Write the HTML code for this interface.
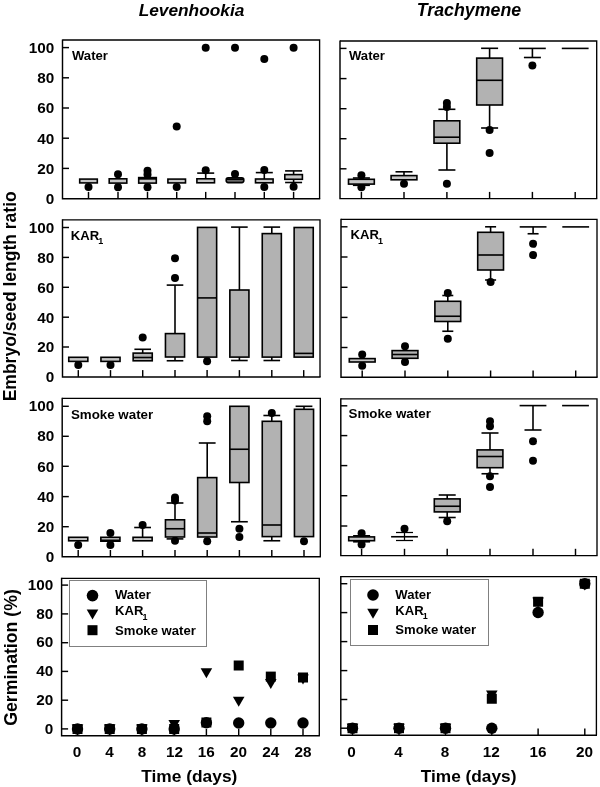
<!DOCTYPE html>
<html><head><meta charset="utf-8"><title>Embryo growth and germination</title>
<style>
html,body{margin:0;padding:0;background:#fff;}
body{width:600px;height:787px;overflow:hidden;}
svg{display:block;}
svg text{font-family:"Liberation Sans",sans-serif;font-weight:bold;fill:#000;}
</style></head><body>
<svg width="600" height="787" viewBox="0 0 600 787">
<defs><filter id="soft" x="0" y="0" width="600" height="787" filterUnits="userSpaceOnUse"><feGaussianBlur stdDeviation="0.3"/></filter></defs>
<rect x="0" y="0" width="600" height="787" fill="#fff"/>
<g filter="url(#soft)">
<path d="M62.50 40.00H319.60V198.70" fill="none" stroke="#000" stroke-width="1.35"/>
<path d="M62.50 39.40V198.70H320.20" fill="none" stroke="#000" stroke-width="1.45"/>
<line x1="62.50" y1="47.60" x2="69.00" y2="47.60" stroke="#000" stroke-width="1.45"/>
<line x1="62.50" y1="77.80" x2="69.00" y2="77.80" stroke="#000" stroke-width="1.45"/>
<line x1="62.50" y1="108.00" x2="69.00" y2="108.00" stroke="#000" stroke-width="1.45"/>
<line x1="62.50" y1="138.20" x2="69.00" y2="138.20" stroke="#000" stroke-width="1.45"/>
<line x1="62.50" y1="168.40" x2="69.00" y2="168.40" stroke="#000" stroke-width="1.45"/>
<text x="54.30" y="52.95" font-size="15.3" text-anchor="end"  style="">100</text>
<text x="54.30" y="83.15" font-size="15.3" text-anchor="end"  style="">80</text>
<text x="54.30" y="113.35" font-size="15.3" text-anchor="end"  style="">60</text>
<text x="54.30" y="143.55" font-size="15.3" text-anchor="end"  style="">40</text>
<text x="54.30" y="173.75" font-size="15.3" text-anchor="end"  style="">20</text>
<text x="54.30" y="204.05" font-size="15.3" text-anchor="end"  style="">0</text>
<line x1="88.50" y1="198.70" x2="88.50" y2="191.90" stroke="#000" stroke-width="1.45"/>
<line x1="118.00" y1="198.70" x2="118.00" y2="191.90" stroke="#000" stroke-width="1.45"/>
<line x1="147.50" y1="198.70" x2="147.50" y2="191.90" stroke="#000" stroke-width="1.45"/>
<line x1="176.70" y1="198.70" x2="176.70" y2="191.90" stroke="#000" stroke-width="1.45"/>
<line x1="205.70" y1="198.70" x2="205.70" y2="191.90" stroke="#000" stroke-width="1.45"/>
<line x1="235.00" y1="198.70" x2="235.00" y2="191.90" stroke="#000" stroke-width="1.45"/>
<line x1="264.30" y1="198.70" x2="264.30" y2="191.90" stroke="#000" stroke-width="1.45"/>
<line x1="293.60" y1="198.70" x2="293.60" y2="191.90" stroke="#000" stroke-width="1.45"/>
<text x="72.00" y="59.90" font-size="13.1" text-anchor="start"  style="">Water</text>
<circle cx="88.50" cy="186.90" r="4.0" fill="#000"/>
<rect x="79.70" y="179.10" width="17.60" height="3.80" fill="#c6c6c6" stroke="#000" stroke-width="1.6"/>
<circle cx="118.00" cy="174.20" r="4.0" fill="#000"/>
<circle cx="118.00" cy="187.20" r="4.0" fill="#000"/>
<rect x="109.20" y="178.80" width="17.60" height="4.30" fill="#c6c6c6" stroke="#000" stroke-width="1.6"/>
<circle cx="147.50" cy="170.70" r="4.0" fill="#000"/>
<circle cx="147.50" cy="174.60" r="4.0" fill="#000"/>
<circle cx="147.50" cy="187.20" r="4.0" fill="#000"/>
<rect x="138.70" y="177.60" width="17.60" height="5.50" fill="#c6c6c6" stroke="#000" stroke-width="1.6"/>
<line x1="138.70" y1="178.60" x2="156.30" y2="178.60" stroke="#000" stroke-width="2.2"/>
<circle cx="176.70" cy="186.90" r="4.0" fill="#000"/>
<circle cx="176.70" cy="126.60" r="4.0" fill="#000"/>
<rect x="167.90" y="179.10" width="17.60" height="3.80" fill="#c6c6c6" stroke="#000" stroke-width="1.6"/>
<line x1="205.70" y1="178.80" x2="205.70" y2="173.10" stroke="#000" stroke-width="1.6"/>
<line x1="197.20" y1="173.10" x2="214.20" y2="173.10" stroke="#000" stroke-width="1.6"/>
<circle cx="205.70" cy="170.30" r="4.0" fill="#000"/>
<circle cx="205.70" cy="47.65" r="4.0" fill="#000"/>
<rect x="196.90" y="178.80" width="17.60" height="4.00" fill="#c6c6c6" stroke="#000" stroke-width="1.6"/>
<circle cx="235.00" cy="174.00" r="4.0" fill="#000"/>
<circle cx="235.00" cy="47.65" r="4.0" fill="#000"/>
<rect x="226.20" y="177.90" width="17.60" height="4.70" fill="#666" stroke="#000" stroke-width="1.6" rx="2"/>
<line x1="226.20" y1="179.20" x2="243.80" y2="179.20" stroke="#000" stroke-width="1.6"/>
<line x1="264.30" y1="179.00" x2="264.30" y2="172.60" stroke="#000" stroke-width="1.6"/>
<line x1="255.80" y1="172.60" x2="272.80" y2="172.60" stroke="#000" stroke-width="1.6"/>
<circle cx="264.30" cy="169.90" r="4.0" fill="#000"/>
<circle cx="264.30" cy="187.10" r="4.0" fill="#000"/>
<circle cx="264.30" cy="58.90" r="4.0" fill="#000"/>
<rect x="255.50" y="179.00" width="17.60" height="3.80" fill="#c6c6c6" stroke="#000" stroke-width="1.6"/>
<line x1="293.60" y1="174.60" x2="293.60" y2="170.90" stroke="#000" stroke-width="1.6"/>
<line x1="285.10" y1="170.90" x2="302.10" y2="170.90" stroke="#000" stroke-width="1.6"/>
<line x1="293.60" y1="179.30" x2="293.60" y2="182.50" stroke="#000" stroke-width="1.6"/>
<line x1="285.10" y1="182.50" x2="302.10" y2="182.50" stroke="#000" stroke-width="1.6"/>
<circle cx="293.60" cy="186.80" r="4.0" fill="#000"/>
<circle cx="293.60" cy="47.65" r="4.0" fill="#000"/>
<rect x="284.80" y="174.60" width="17.60" height="4.70" fill="#c6c6c6" stroke="#000" stroke-width="1.6"/>
<path d="M340.00 41.00H596.70V198.60" fill="none" stroke="#000" stroke-width="1.35"/>
<path d="M340.00 40.40V198.60H597.30" fill="none" stroke="#000" stroke-width="1.45"/>
<line x1="340.00" y1="48.40" x2="346.50" y2="48.40" stroke="#000" stroke-width="1.45"/>
<line x1="340.00" y1="78.60" x2="346.50" y2="78.60" stroke="#000" stroke-width="1.45"/>
<line x1="340.00" y1="108.70" x2="346.50" y2="108.70" stroke="#000" stroke-width="1.45"/>
<line x1="340.00" y1="138.70" x2="346.50" y2="138.70" stroke="#000" stroke-width="1.45"/>
<line x1="340.00" y1="168.80" x2="346.50" y2="168.80" stroke="#000" stroke-width="1.45"/>
<line x1="361.40" y1="198.70" x2="361.40" y2="191.90" stroke="#000" stroke-width="1.45"/>
<line x1="404.00" y1="198.70" x2="404.00" y2="191.90" stroke="#000" stroke-width="1.45"/>
<line x1="446.90" y1="198.70" x2="446.90" y2="191.90" stroke="#000" stroke-width="1.45"/>
<line x1="489.60" y1="198.70" x2="489.60" y2="191.90" stroke="#000" stroke-width="1.45"/>
<line x1="532.40" y1="198.70" x2="532.40" y2="191.90" stroke="#000" stroke-width="1.45"/>
<line x1="575.20" y1="198.70" x2="575.20" y2="191.90" stroke="#000" stroke-width="1.45"/>
<text x="349.00" y="60.20" font-size="13.1" text-anchor="start"  style="">Water</text>
<line x1="361.40" y1="179.30" x2="361.40" y2="178.00" stroke="#000" stroke-width="1.6"/>
<line x1="352.90" y1="178.00" x2="369.90" y2="178.00" stroke="#000" stroke-width="1.6"/>
<line x1="361.40" y1="184.10" x2="361.40" y2="185.30" stroke="#000" stroke-width="1.6"/>
<line x1="352.90" y1="185.30" x2="369.90" y2="185.30" stroke="#000" stroke-width="1.6"/>
<circle cx="361.40" cy="175.20" r="4.0" fill="#000"/>
<circle cx="361.40" cy="187.30" r="4.0" fill="#000"/>
<rect x="348.50" y="179.30" width="25.80" height="4.80" fill="#c6c6c6" stroke="#000" stroke-width="1.6"/>
<line x1="404.00" y1="175.60" x2="404.00" y2="171.80" stroke="#000" stroke-width="1.6"/>
<line x1="395.50" y1="171.80" x2="412.50" y2="171.80" stroke="#000" stroke-width="1.6"/>
<circle cx="404.00" cy="183.75" r="4.0" fill="#000"/>
<rect x="391.10" y="175.60" width="25.80" height="4.20" fill="#c6c6c6" stroke="#000" stroke-width="1.6"/>
<line x1="446.90" y1="120.80" x2="446.90" y2="109.30" stroke="#000" stroke-width="1.6"/>
<line x1="438.40" y1="109.30" x2="455.40" y2="109.30" stroke="#000" stroke-width="1.6"/>
<line x1="446.90" y1="143.20" x2="446.90" y2="170.00" stroke="#000" stroke-width="1.6"/>
<line x1="438.40" y1="170.00" x2="455.40" y2="170.00" stroke="#000" stroke-width="1.6"/>
<circle cx="446.90" cy="103.00" r="4.0" fill="#000"/>
<circle cx="446.90" cy="107.00" r="4.0" fill="#000"/>
<circle cx="446.90" cy="183.75" r="4.0" fill="#000"/>
<rect x="434.00" y="120.80" width="25.80" height="22.40" fill="#b2b2b2" stroke="#000" stroke-width="1.6"/>
<line x1="434.00" y1="137.20" x2="459.80" y2="137.20" stroke="#000" stroke-width="1.6"/>
<line x1="489.60" y1="58.10" x2="489.60" y2="48.30" stroke="#000" stroke-width="1.6"/>
<line x1="481.10" y1="48.30" x2="498.10" y2="48.30" stroke="#000" stroke-width="1.6"/>
<line x1="489.60" y1="105.00" x2="489.60" y2="128.00" stroke="#000" stroke-width="1.6"/>
<line x1="481.10" y1="128.00" x2="498.10" y2="128.00" stroke="#000" stroke-width="1.6"/>
<circle cx="489.60" cy="130.00" r="4.0" fill="#000"/>
<circle cx="489.60" cy="153.00" r="4.0" fill="#000"/>
<rect x="476.70" y="58.10" width="25.80" height="46.90" fill="#b2b2b2" stroke="#000" stroke-width="1.6"/>
<line x1="476.70" y1="80.30" x2="502.50" y2="80.30" stroke="#000" stroke-width="1.6"/>
<line x1="532.40" y1="48.40" x2="532.40" y2="57.50" stroke="#000" stroke-width="1.6"/>
<line x1="523.90" y1="57.50" x2="540.90" y2="57.50" stroke="#000" stroke-width="1.6"/>
<circle cx="532.40" cy="65.50" r="4.0" fill="#000"/>
<line x1="519.00" y1="48.40" x2="545.80" y2="48.40" stroke="#000" stroke-width="1.6"/>
<line x1="561.80" y1="48.40" x2="588.60" y2="48.40" stroke="#000" stroke-width="1.6"/>
<path d="M62.50 219.80H320.00V376.90" fill="none" stroke="#000" stroke-width="1.35"/>
<path d="M62.50 219.20V376.90H320.60" fill="none" stroke="#000" stroke-width="1.45"/>
<line x1="62.50" y1="227.50" x2="69.00" y2="227.50" stroke="#000" stroke-width="1.45"/>
<line x1="62.50" y1="257.40" x2="69.00" y2="257.40" stroke="#000" stroke-width="1.45"/>
<line x1="62.50" y1="287.30" x2="69.00" y2="287.30" stroke="#000" stroke-width="1.45"/>
<line x1="62.50" y1="317.20" x2="69.00" y2="317.20" stroke="#000" stroke-width="1.45"/>
<line x1="62.50" y1="347.00" x2="69.00" y2="347.00" stroke="#000" stroke-width="1.45"/>
<text x="54.30" y="232.85" font-size="15.3" text-anchor="end"  style="">100</text>
<text x="54.30" y="262.75" font-size="15.3" text-anchor="end"  style="">80</text>
<text x="54.30" y="292.65" font-size="15.3" text-anchor="end"  style="">60</text>
<text x="54.30" y="322.55" font-size="15.3" text-anchor="end"  style="">40</text>
<text x="54.30" y="352.35" font-size="15.3" text-anchor="end"  style="">20</text>
<text x="54.30" y="382.25" font-size="15.3" text-anchor="end"  style="">0</text>
<line x1="78.30" y1="376.90" x2="78.30" y2="370.10" stroke="#000" stroke-width="1.45"/>
<line x1="110.50" y1="376.90" x2="110.50" y2="370.10" stroke="#000" stroke-width="1.45"/>
<line x1="142.70" y1="376.90" x2="142.70" y2="370.10" stroke="#000" stroke-width="1.45"/>
<line x1="175.00" y1="376.90" x2="175.00" y2="370.10" stroke="#000" stroke-width="1.45"/>
<line x1="207.10" y1="376.90" x2="207.10" y2="370.10" stroke="#000" stroke-width="1.45"/>
<line x1="239.40" y1="376.90" x2="239.40" y2="370.10" stroke="#000" stroke-width="1.45"/>
<line x1="271.80" y1="376.90" x2="271.80" y2="370.10" stroke="#000" stroke-width="1.45"/>
<line x1="303.70" y1="376.90" x2="303.70" y2="370.10" stroke="#000" stroke-width="1.45"/>
<text x="70.8" y="240.0" font-size="13.1">KAR<tspan font-size="9" dy="4.3" dx="-0.9">1</tspan></text>
<circle cx="78.30" cy="365.00" r="4.0" fill="#000"/>
<rect x="68.75" y="357.30" width="19.10" height="4.10" fill="#c6c6c6" stroke="#000" stroke-width="1.6"/>
<circle cx="110.50" cy="365.00" r="4.0" fill="#000"/>
<rect x="100.95" y="357.30" width="19.10" height="4.10" fill="#c6c6c6" stroke="#000" stroke-width="1.6"/>
<line x1="142.70" y1="353.10" x2="142.70" y2="349.30" stroke="#000" stroke-width="1.6"/>
<line x1="134.40" y1="349.30" x2="151.00" y2="349.30" stroke="#000" stroke-width="1.6"/>
<circle cx="142.70" cy="337.50" r="4.0" fill="#000"/>
<rect x="133.15" y="353.10" width="19.10" height="7.70" fill="#b2b2b2" stroke="#000" stroke-width="1.6"/>
<line x1="133.15" y1="357.50" x2="152.25" y2="357.50" stroke="#000" stroke-width="1.6"/>
<line x1="175.00" y1="333.60" x2="175.00" y2="285.10" stroke="#000" stroke-width="1.6"/>
<line x1="166.70" y1="285.10" x2="183.30" y2="285.10" stroke="#000" stroke-width="1.6"/>
<line x1="175.00" y1="357.00" x2="175.00" y2="360.75" stroke="#000" stroke-width="1.6"/>
<line x1="166.70" y1="360.75" x2="183.30" y2="360.75" stroke="#000" stroke-width="1.6"/>
<circle cx="175.00" cy="258.25" r="4.0" fill="#000"/>
<circle cx="175.00" cy="278.00" r="4.0" fill="#000"/>
<rect x="165.45" y="333.60" width="19.10" height="23.40" fill="#b2b2b2" stroke="#000" stroke-width="1.6"/>
<circle cx="207.10" cy="361.25" r="4.0" fill="#000"/>
<rect x="197.55" y="227.40" width="19.10" height="129.70" fill="#b2b2b2" stroke="#000" stroke-width="1.6"/>
<line x1="197.55" y1="297.90" x2="216.65" y2="297.90" stroke="#000" stroke-width="1.6"/>
<line x1="239.40" y1="290.00" x2="239.40" y2="227.10" stroke="#000" stroke-width="1.6"/>
<line x1="231.10" y1="227.10" x2="247.70" y2="227.10" stroke="#000" stroke-width="1.6"/>
<line x1="239.40" y1="357.10" x2="239.40" y2="360.50" stroke="#000" stroke-width="1.6"/>
<line x1="231.10" y1="360.50" x2="247.70" y2="360.50" stroke="#000" stroke-width="1.6"/>
<rect x="229.85" y="290.00" width="19.10" height="67.10" fill="#b2b2b2" stroke="#000" stroke-width="1.6"/>
<line x1="271.80" y1="233.60" x2="271.80" y2="227.10" stroke="#000" stroke-width="1.6"/>
<line x1="263.50" y1="227.10" x2="280.10" y2="227.10" stroke="#000" stroke-width="1.6"/>
<line x1="271.80" y1="357.10" x2="271.80" y2="360.50" stroke="#000" stroke-width="1.6"/>
<line x1="263.50" y1="360.50" x2="280.10" y2="360.50" stroke="#000" stroke-width="1.6"/>
<rect x="262.25" y="233.60" width="19.10" height="123.50" fill="#b2b2b2" stroke="#000" stroke-width="1.6"/>
<rect x="294.15" y="227.50" width="19.10" height="129.60" fill="#b2b2b2" stroke="#000" stroke-width="1.6"/>
<line x1="294.15" y1="353.40" x2="313.25" y2="353.40" stroke="#000" stroke-width="1.6"/>
<path d="M341.00 219.30H597.00V377.20" fill="none" stroke="#000" stroke-width="1.35"/>
<path d="M341.00 218.70V377.20H597.60" fill="none" stroke="#000" stroke-width="1.45"/>
<line x1="341.00" y1="226.80" x2="347.50" y2="226.80" stroke="#000" stroke-width="1.45"/>
<line x1="341.00" y1="257.00" x2="347.50" y2="257.00" stroke="#000" stroke-width="1.45"/>
<line x1="341.00" y1="287.30" x2="347.50" y2="287.30" stroke="#000" stroke-width="1.45"/>
<line x1="341.00" y1="317.40" x2="347.50" y2="317.40" stroke="#000" stroke-width="1.45"/>
<line x1="341.00" y1="347.50" x2="347.50" y2="347.50" stroke="#000" stroke-width="1.45"/>
<line x1="362.20" y1="377.30" x2="362.20" y2="370.50" stroke="#000" stroke-width="1.45"/>
<line x1="405.00" y1="377.30" x2="405.00" y2="370.50" stroke="#000" stroke-width="1.45"/>
<line x1="447.80" y1="377.30" x2="447.80" y2="370.50" stroke="#000" stroke-width="1.45"/>
<line x1="490.60" y1="377.30" x2="490.60" y2="370.50" stroke="#000" stroke-width="1.45"/>
<line x1="533.10" y1="377.30" x2="533.10" y2="370.50" stroke="#000" stroke-width="1.45"/>
<line x1="575.70" y1="377.30" x2="575.70" y2="370.50" stroke="#000" stroke-width="1.45"/>
<text x="350.5" y="239.4" font-size="13.1">KAR<tspan font-size="9" dy="4.3" dx="-0.9">1</tspan></text>
<circle cx="362.20" cy="354.50" r="4.0" fill="#000"/>
<circle cx="362.20" cy="365.75" r="4.0" fill="#000"/>
<rect x="349.30" y="358.60" width="25.80" height="3.40" fill="#c6c6c6" stroke="#000" stroke-width="1.6"/>
<circle cx="405.00" cy="346.25" r="4.0" fill="#000"/>
<circle cx="405.00" cy="362.00" r="4.0" fill="#000"/>
<rect x="392.10" y="350.60" width="25.80" height="7.70" fill="#b2b2b2" stroke="#000" stroke-width="1.6"/>
<line x1="392.10" y1="354.50" x2="417.90" y2="354.50" stroke="#000" stroke-width="1.6"/>
<line x1="447.80" y1="301.30" x2="447.80" y2="295.50" stroke="#000" stroke-width="1.6"/>
<line x1="442.30" y1="295.50" x2="453.30" y2="295.50" stroke="#000" stroke-width="1.6"/>
<line x1="447.80" y1="321.50" x2="447.80" y2="331.25" stroke="#000" stroke-width="1.6"/>
<line x1="442.30" y1="331.25" x2="453.30" y2="331.25" stroke="#000" stroke-width="1.6"/>
<circle cx="447.80" cy="293.00" r="4.0" fill="#000"/>
<circle cx="447.80" cy="338.75" r="4.0" fill="#000"/>
<rect x="434.90" y="301.30" width="25.80" height="20.20" fill="#b2b2b2" stroke="#000" stroke-width="1.6"/>
<line x1="434.90" y1="316.25" x2="460.70" y2="316.25" stroke="#000" stroke-width="1.6"/>
<line x1="490.60" y1="232.30" x2="490.60" y2="226.80" stroke="#000" stroke-width="1.6"/>
<line x1="485.10" y1="226.80" x2="496.10" y2="226.80" stroke="#000" stroke-width="1.6"/>
<line x1="490.60" y1="270.00" x2="490.60" y2="280.00" stroke="#000" stroke-width="1.6"/>
<line x1="485.10" y1="280.00" x2="496.10" y2="280.00" stroke="#000" stroke-width="1.6"/>
<circle cx="490.60" cy="282.00" r="4.0" fill="#000"/>
<rect x="477.70" y="232.30" width="25.80" height="37.70" fill="#b2b2b2" stroke="#000" stroke-width="1.6"/>
<line x1="477.70" y1="255.00" x2="503.50" y2="255.00" stroke="#000" stroke-width="1.6"/>
<line x1="533.10" y1="226.90" x2="533.10" y2="233.75" stroke="#000" stroke-width="1.6"/>
<line x1="527.60" y1="233.75" x2="538.60" y2="233.75" stroke="#000" stroke-width="1.6"/>
<circle cx="533.10" cy="243.75" r="4.0" fill="#000"/>
<circle cx="533.10" cy="255.00" r="4.0" fill="#000"/>
<line x1="519.70" y1="226.90" x2="546.50" y2="226.90" stroke="#000" stroke-width="1.6"/>
<line x1="562.30" y1="226.90" x2="589.10" y2="226.90" stroke="#000" stroke-width="1.6"/>
<path d="M62.20 398.30H320.30V556.80" fill="none" stroke="#000" stroke-width="1.35"/>
<path d="M62.20 397.70V556.80H320.90" fill="none" stroke="#000" stroke-width="1.45"/>
<line x1="62.30" y1="406.30" x2="68.80" y2="406.30" stroke="#000" stroke-width="1.45"/>
<line x1="62.30" y1="436.30" x2="68.80" y2="436.30" stroke="#000" stroke-width="1.45"/>
<line x1="62.30" y1="466.30" x2="68.80" y2="466.30" stroke="#000" stroke-width="1.45"/>
<line x1="62.30" y1="496.60" x2="68.80" y2="496.60" stroke="#000" stroke-width="1.45"/>
<line x1="62.30" y1="526.70" x2="68.80" y2="526.70" stroke="#000" stroke-width="1.45"/>
<text x="54.30" y="410.95" font-size="15.3" text-anchor="end"  style="">100</text>
<text x="54.30" y="441.45" font-size="15.3" text-anchor="end"  style="">80</text>
<text x="54.30" y="471.65" font-size="15.3" text-anchor="end"  style="">60</text>
<text x="54.30" y="501.95" font-size="15.3" text-anchor="end"  style="">40</text>
<text x="54.30" y="532.05" font-size="15.3" text-anchor="end"  style="">20</text>
<text x="54.30" y="562.15" font-size="15.3" text-anchor="end"  style="">0</text>
<line x1="78.20" y1="556.80" x2="78.20" y2="550.00" stroke="#000" stroke-width="1.45"/>
<line x1="110.40" y1="556.80" x2="110.40" y2="550.00" stroke="#000" stroke-width="1.45"/>
<line x1="142.60" y1="556.80" x2="142.60" y2="550.00" stroke="#000" stroke-width="1.45"/>
<line x1="175.00" y1="556.80" x2="175.00" y2="550.00" stroke="#000" stroke-width="1.45"/>
<line x1="207.20" y1="556.80" x2="207.20" y2="550.00" stroke="#000" stroke-width="1.45"/>
<line x1="239.40" y1="556.80" x2="239.40" y2="550.00" stroke="#000" stroke-width="1.45"/>
<line x1="271.80" y1="556.80" x2="271.80" y2="550.00" stroke="#000" stroke-width="1.45"/>
<line x1="304.00" y1="556.80" x2="304.00" y2="550.00" stroke="#000" stroke-width="1.45"/>
<text x="70.90" y="418.50" font-size="13.35" text-anchor="start"  style="">Smoke water</text>
<circle cx="78.20" cy="545.00" r="4.0" fill="#000"/>
<rect x="68.65" y="537.30" width="19.10" height="3.50" fill="#c6c6c6" stroke="#000" stroke-width="1.6"/>
<circle cx="110.40" cy="533.00" r="4.0" fill="#000"/>
<circle cx="110.40" cy="545.00" r="4.0" fill="#000"/>
<rect x="100.85" y="537.30" width="19.10" height="3.90" fill="#c6c6c6" stroke="#000" stroke-width="1.6"/>
<line x1="100.85" y1="540.30" x2="119.95" y2="540.30" stroke="#000" stroke-width="1.6"/>
<line x1="142.60" y1="537.30" x2="142.60" y2="527.50" stroke="#000" stroke-width="1.6"/>
<line x1="134.20" y1="527.50" x2="151.00" y2="527.50" stroke="#000" stroke-width="1.6"/>
<circle cx="142.60" cy="525.00" r="4.0" fill="#000"/>
<rect x="133.05" y="537.30" width="19.10" height="3.50" fill="#c6c6c6" stroke="#000" stroke-width="1.6"/>
<line x1="175.00" y1="519.80" x2="175.00" y2="503.00" stroke="#000" stroke-width="1.6"/>
<line x1="166.60" y1="503.00" x2="183.40" y2="503.00" stroke="#000" stroke-width="1.6"/>
<line x1="175.00" y1="537.00" x2="175.00" y2="538.90" stroke="#000" stroke-width="1.6"/>
<line x1="166.60" y1="538.90" x2="183.40" y2="538.90" stroke="#000" stroke-width="1.6"/>
<circle cx="175.00" cy="497.50" r="4.0" fill="#000"/>
<circle cx="175.00" cy="500.50" r="4.0" fill="#000"/>
<circle cx="175.00" cy="540.75" r="4.0" fill="#000"/>
<rect x="165.45" y="519.80" width="19.10" height="17.20" fill="#b2b2b2" stroke="#000" stroke-width="1.6"/>
<line x1="165.45" y1="528.75" x2="184.55" y2="528.75" stroke="#000" stroke-width="1.6"/>
<line x1="207.20" y1="477.60" x2="207.20" y2="443.00" stroke="#000" stroke-width="1.6"/>
<line x1="198.80" y1="443.00" x2="215.60" y2="443.00" stroke="#000" stroke-width="1.6"/>
<circle cx="207.20" cy="416.25" r="4.0" fill="#000"/>
<circle cx="207.20" cy="421.25" r="4.0" fill="#000"/>
<circle cx="207.20" cy="541.25" r="4.0" fill="#000"/>
<rect x="197.65" y="477.60" width="19.10" height="59.40" fill="#b2b2b2" stroke="#000" stroke-width="1.6"/>
<line x1="197.65" y1="533.00" x2="216.75" y2="533.00" stroke="#000" stroke-width="1.6"/>
<line x1="239.40" y1="482.50" x2="239.40" y2="521.75" stroke="#000" stroke-width="1.6"/>
<line x1="231.00" y1="521.75" x2="247.80" y2="521.75" stroke="#000" stroke-width="1.6"/>
<circle cx="239.40" cy="528.75" r="4.0" fill="#000"/>
<circle cx="239.40" cy="537.00" r="4.0" fill="#000"/>
<rect x="229.85" y="406.30" width="19.10" height="76.20" fill="#b2b2b2" stroke="#000" stroke-width="1.6"/>
<line x1="229.85" y1="449.25" x2="248.95" y2="449.25" stroke="#000" stroke-width="1.6"/>
<line x1="271.80" y1="421.30" x2="271.80" y2="415.50" stroke="#000" stroke-width="1.6"/>
<line x1="263.40" y1="415.50" x2="280.20" y2="415.50" stroke="#000" stroke-width="1.6"/>
<line x1="271.80" y1="536.60" x2="271.80" y2="540.75" stroke="#000" stroke-width="1.6"/>
<line x1="263.40" y1="540.75" x2="280.20" y2="540.75" stroke="#000" stroke-width="1.6"/>
<circle cx="271.80" cy="413.00" r="4.0" fill="#000"/>
<rect x="262.25" y="421.30" width="19.10" height="115.30" fill="#b2b2b2" stroke="#000" stroke-width="1.6"/>
<line x1="262.25" y1="525.00" x2="281.35" y2="525.00" stroke="#000" stroke-width="1.6"/>
<line x1="304.00" y1="409.30" x2="304.00" y2="406.30" stroke="#000" stroke-width="1.6"/>
<line x1="295.60" y1="406.30" x2="312.40" y2="406.30" stroke="#000" stroke-width="1.6"/>
<circle cx="304.00" cy="541.25" r="4.0" fill="#000"/>
<rect x="294.45" y="409.30" width="19.10" height="127.30" fill="#b2b2b2" stroke="#000" stroke-width="1.6"/>
<path d="M340.80 398.90H597.00V555.60" fill="none" stroke="#000" stroke-width="1.35"/>
<path d="M340.80 398.30V555.60H597.60" fill="none" stroke="#000" stroke-width="1.45"/>
<line x1="340.80" y1="405.80" x2="347.30" y2="405.80" stroke="#000" stroke-width="1.45"/>
<line x1="340.80" y1="435.60" x2="347.30" y2="435.60" stroke="#000" stroke-width="1.45"/>
<line x1="340.80" y1="465.60" x2="347.30" y2="465.60" stroke="#000" stroke-width="1.45"/>
<line x1="340.80" y1="495.70" x2="347.30" y2="495.70" stroke="#000" stroke-width="1.45"/>
<line x1="340.80" y1="526.00" x2="347.30" y2="526.00" stroke="#000" stroke-width="1.45"/>
<line x1="361.60" y1="555.60" x2="361.60" y2="548.80" stroke="#000" stroke-width="1.45"/>
<line x1="404.50" y1="555.60" x2="404.50" y2="548.80" stroke="#000" stroke-width="1.45"/>
<line x1="447.20" y1="555.60" x2="447.20" y2="548.80" stroke="#000" stroke-width="1.45"/>
<line x1="490.00" y1="555.60" x2="490.00" y2="548.80" stroke="#000" stroke-width="1.45"/>
<line x1="533.00" y1="555.60" x2="533.00" y2="548.80" stroke="#000" stroke-width="1.45"/>
<line x1="575.50" y1="555.60" x2="575.50" y2="548.80" stroke="#000" stroke-width="1.45"/>
<text x="348.50" y="418.00" font-size="13.35" text-anchor="start"  style="">Smoke water</text>
<line x1="361.60" y1="536.90" x2="361.60" y2="535.80" stroke="#000" stroke-width="1.6"/>
<line x1="353.10" y1="535.80" x2="370.10" y2="535.80" stroke="#000" stroke-width="1.6"/>
<line x1="361.60" y1="540.70" x2="361.60" y2="541.80" stroke="#000" stroke-width="1.6"/>
<line x1="353.10" y1="541.80" x2="370.10" y2="541.80" stroke="#000" stroke-width="1.6"/>
<circle cx="361.60" cy="533.25" r="4.0" fill="#000"/>
<circle cx="361.60" cy="544.50" r="4.0" fill="#000"/>
<rect x="348.70" y="536.90" width="25.80" height="3.80" fill="#c6c6c6" stroke="#000" stroke-width="1.6"/>
<circle cx="404.50" cy="528.75" r="4.0" fill="#000"/>
<line x1="391.10" y1="536.75" x2="417.90" y2="536.75" stroke="#000" stroke-width="1.6"/>
<line x1="404.50" y1="532.50" x2="404.50" y2="540.50" stroke="#000" stroke-width="1.25"/>
<line x1="396.00" y1="532.50" x2="413.00" y2="532.50" stroke="#000" stroke-width="1.25"/>
<line x1="396.00" y1="540.50" x2="413.00" y2="540.50" stroke="#000" stroke-width="1.25"/>
<line x1="447.20" y1="498.90" x2="447.20" y2="495.00" stroke="#000" stroke-width="1.6"/>
<line x1="438.70" y1="495.00" x2="455.70" y2="495.00" stroke="#000" stroke-width="1.6"/>
<line x1="447.20" y1="511.90" x2="447.20" y2="517.50" stroke="#000" stroke-width="1.6"/>
<line x1="438.70" y1="517.50" x2="455.70" y2="517.50" stroke="#000" stroke-width="1.6"/>
<circle cx="447.20" cy="521.25" r="4.0" fill="#000"/>
<rect x="434.30" y="498.90" width="25.80" height="13.00" fill="#b2b2b2" stroke="#000" stroke-width="1.6"/>
<line x1="434.30" y1="506.25" x2="460.10" y2="506.25" stroke="#000" stroke-width="1.6"/>
<line x1="490.00" y1="449.90" x2="490.00" y2="433.00" stroke="#000" stroke-width="1.6"/>
<line x1="481.50" y1="433.00" x2="498.50" y2="433.00" stroke="#000" stroke-width="1.6"/>
<line x1="490.00" y1="467.70" x2="490.00" y2="473.75" stroke="#000" stroke-width="1.6"/>
<line x1="481.50" y1="473.75" x2="498.50" y2="473.75" stroke="#000" stroke-width="1.6"/>
<circle cx="490.00" cy="421.25" r="4.0" fill="#000"/>
<circle cx="490.00" cy="426.25" r="4.0" fill="#000"/>
<circle cx="490.00" cy="476.25" r="4.0" fill="#000"/>
<circle cx="490.00" cy="487.00" r="4.0" fill="#000"/>
<rect x="477.10" y="449.90" width="25.80" height="17.80" fill="#b2b2b2" stroke="#000" stroke-width="1.6"/>
<line x1="477.10" y1="456.50" x2="502.90" y2="456.50" stroke="#000" stroke-width="1.6"/>
<line x1="533.00" y1="405.60" x2="533.00" y2="430.00" stroke="#000" stroke-width="1.6"/>
<line x1="524.50" y1="430.00" x2="541.50" y2="430.00" stroke="#000" stroke-width="1.6"/>
<circle cx="533.00" cy="441.25" r="4.0" fill="#000"/>
<circle cx="533.00" cy="460.75" r="4.0" fill="#000"/>
<line x1="519.60" y1="405.60" x2="546.40" y2="405.60" stroke="#000" stroke-width="1.6"/>
<line x1="562.10" y1="405.60" x2="588.90" y2="405.60" stroke="#000" stroke-width="1.6"/>
<path d="M61.60 578.30H319.30V735.80" fill="none" stroke="#000" stroke-width="1.35"/>
<path d="M61.60 577.70V735.80H319.90" fill="none" stroke="#000" stroke-width="1.45"/>
<line x1="61.60" y1="585.10" x2="68.10" y2="585.10" stroke="#000" stroke-width="1.45"/>
<line x1="61.60" y1="613.90" x2="68.10" y2="613.90" stroke="#000" stroke-width="1.45"/>
<line x1="61.60" y1="642.70" x2="68.10" y2="642.70" stroke="#000" stroke-width="1.45"/>
<line x1="61.60" y1="671.40" x2="68.10" y2="671.40" stroke="#000" stroke-width="1.45"/>
<line x1="61.60" y1="700.20" x2="68.10" y2="700.20" stroke="#000" stroke-width="1.45"/>
<line x1="61.60" y1="728.90" x2="68.10" y2="728.90" stroke="#000" stroke-width="1.45"/>
<text x="53.20" y="589.75" font-size="15.3" text-anchor="end"  style="">100</text>
<text x="53.20" y="618.55" font-size="15.3" text-anchor="end"  style="">80</text>
<text x="53.20" y="647.35" font-size="15.3" text-anchor="end"  style="">60</text>
<text x="53.20" y="676.05" font-size="15.3" text-anchor="end"  style="">40</text>
<text x="53.20" y="704.85" font-size="15.3" text-anchor="end"  style="">20</text>
<text x="53.20" y="733.55" font-size="15.3" text-anchor="end"  style="">0</text>
<line x1="77.50" y1="735.80" x2="77.50" y2="729.00" stroke="#000" stroke-width="1.45"/>
<line x1="109.70" y1="735.80" x2="109.70" y2="729.00" stroke="#000" stroke-width="1.45"/>
<line x1="141.90" y1="735.80" x2="141.90" y2="729.00" stroke="#000" stroke-width="1.45"/>
<line x1="174.20" y1="735.80" x2="174.20" y2="729.00" stroke="#000" stroke-width="1.45"/>
<line x1="206.40" y1="735.80" x2="206.40" y2="729.00" stroke="#000" stroke-width="1.45"/>
<line x1="238.70" y1="735.80" x2="238.70" y2="729.00" stroke="#000" stroke-width="1.45"/>
<line x1="270.80" y1="735.80" x2="270.80" y2="729.00" stroke="#000" stroke-width="1.45"/>
<line x1="303.00" y1="735.80" x2="303.00" y2="729.00" stroke="#000" stroke-width="1.45"/>
<circle cx="77.50" cy="729.00" r="5.7" fill="#000"/>
<path d="M71.70 724.50H83.30L77.50 734.50Z" fill="#000"/>
<rect x="72.50" y="724.00" width="10.0" height="10.0" fill="#000"/>
<circle cx="109.70" cy="729.00" r="5.7" fill="#000"/>
<path d="M103.90 724.50H115.50L109.70 734.50Z" fill="#000"/>
<rect x="104.70" y="724.00" width="10.0" height="10.0" fill="#000"/>
<circle cx="141.90" cy="729.00" r="5.7" fill="#000"/>
<path d="M136.10 724.50H147.70L141.90 734.50Z" fill="#000"/>
<rect x="136.90" y="724.00" width="10.0" height="10.0" fill="#000"/>
<circle cx="174.20" cy="729.00" r="5.7" fill="#000"/>
<path d="M168.40 720.00H180.00L174.20 730.00Z" fill="#000"/>
<rect x="169.20" y="724.00" width="10.0" height="10.0" fill="#000"/>
<circle cx="206.40" cy="722.80" r="5.7" fill="#000"/>
<path d="M200.60 668.25H212.20L206.40 678.25Z" fill="#000"/>
<rect x="201.40" y="717.50" width="10.0" height="10.0" fill="#000"/>
<circle cx="238.70" cy="723.00" r="5.7" fill="#000"/>
<path d="M232.90 696.75H244.50L238.70 706.75Z" fill="#000"/>
<rect x="233.70" y="660.50" width="10.0" height="10.0" fill="#000"/>
<circle cx="270.80" cy="723.00" r="5.7" fill="#000"/>
<path d="M265.00 678.90H276.60L270.80 688.90Z" fill="#000"/>
<rect x="265.80" y="671.60" width="10.0" height="10.0" fill="#000"/>
<circle cx="303.00" cy="723.00" r="5.7" fill="#000"/>
<path d="M297.20 674.50H308.80L303.00 684.50Z" fill="#000"/>
<rect x="298.00" y="672.50" width="10.0" height="10.0" fill="#000"/>
<rect x="69.5" y="580.5" width="137.00" height="66.00" fill="#fff" stroke="#808080" stroke-width="1"/>
<circle cx="92.50" cy="595.60" r="5.8" fill="#000"/>
<path d="M86.70 609.60H98.30L92.50 619.60Z" fill="#000"/>
<rect x="87.50" y="625.20" width="10.0" height="10.0" fill="#000"/>
<text x="115.00" y="599.30" font-size="13.1" text-anchor="start"  style="">Water</text>
<text x="115.0" y="615.3" font-size="13.1">KAR<tspan font-size="9" dy="4.3" dx="-0.9">1</tspan></text>
<text x="115.00" y="634.80" font-size="13.1" text-anchor="start"  style="">Smoke water</text>
<text x="77.00" y="756.90" font-size="15.3" text-anchor="middle"  style="">0</text>
<text x="109.60" y="756.90" font-size="15.3" text-anchor="middle"  style="">4</text>
<text x="142.00" y="756.90" font-size="15.3" text-anchor="middle"  style="">8</text>
<text x="174.50" y="756.90" font-size="15.3" text-anchor="middle"  style="">12</text>
<text x="206.30" y="756.90" font-size="15.3" text-anchor="middle"  style="">16</text>
<text x="238.50" y="756.90" font-size="15.3" text-anchor="middle"  style="">20</text>
<text x="270.80" y="756.90" font-size="15.3" text-anchor="middle"  style="">24</text>
<text x="303.00" y="756.90" font-size="15.3" text-anchor="middle"  style="">28</text>
<text x="189.30" y="782.00" font-size="17.35" text-anchor="middle"  style="">Time (days)</text>
<path d="M340.80 576.60H596.40V735.20" fill="none" stroke="#000" stroke-width="1.35"/>
<path d="M340.80 576.00V735.20H597.00" fill="none" stroke="#000" stroke-width="1.45"/>
<line x1="340.80" y1="583.70" x2="347.30" y2="583.70" stroke="#000" stroke-width="1.45"/>
<line x1="340.80" y1="612.60" x2="347.30" y2="612.60" stroke="#000" stroke-width="1.45"/>
<line x1="340.80" y1="641.60" x2="347.30" y2="641.60" stroke="#000" stroke-width="1.45"/>
<line x1="340.80" y1="670.60" x2="347.30" y2="670.60" stroke="#000" stroke-width="1.45"/>
<line x1="340.80" y1="699.50" x2="347.30" y2="699.50" stroke="#000" stroke-width="1.45"/>
<line x1="340.80" y1="728.20" x2="347.30" y2="728.20" stroke="#000" stroke-width="1.45"/>
<line x1="352.50" y1="735.20" x2="352.50" y2="728.40" stroke="#000" stroke-width="1.45"/>
<line x1="399.00" y1="735.20" x2="399.00" y2="728.40" stroke="#000" stroke-width="1.45"/>
<line x1="445.50" y1="735.20" x2="445.50" y2="728.40" stroke="#000" stroke-width="1.45"/>
<line x1="491.80" y1="735.20" x2="491.80" y2="728.40" stroke="#000" stroke-width="1.45"/>
<line x1="538.10" y1="735.20" x2="538.10" y2="728.40" stroke="#000" stroke-width="1.45"/>
<line x1="584.80" y1="735.20" x2="584.80" y2="728.40" stroke="#000" stroke-width="1.45"/>
<circle cx="352.50" cy="728.20" r="5.7" fill="#000"/>
<path d="M346.70 723.70H358.30L352.50 733.70Z" fill="#000"/>
<rect x="347.50" y="723.20" width="10.0" height="10.0" fill="#000"/>
<circle cx="399.00" cy="728.20" r="5.7" fill="#000"/>
<path d="M393.20 723.70H404.80L399.00 733.70Z" fill="#000"/>
<rect x="394.00" y="723.20" width="10.0" height="10.0" fill="#000"/>
<circle cx="445.50" cy="728.20" r="5.7" fill="#000"/>
<path d="M439.70 723.70H451.30L445.50 733.70Z" fill="#000"/>
<rect x="440.50" y="723.20" width="10.0" height="10.0" fill="#000"/>
<circle cx="491.80" cy="728.20" r="5.7" fill="#000"/>
<path d="M486.00 690.50H497.60L491.80 700.50Z" fill="#000"/>
<rect x="486.80" y="693.75" width="10.0" height="10.0" fill="#000"/>
<circle cx="538.10" cy="612.50" r="5.7" fill="#000"/>
<path d="M532.30 597.50H543.90L538.10 607.50Z" fill="#000"/>
<rect x="533.10" y="596.75" width="10.0" height="10.0" fill="#000"/>
<circle cx="584.80" cy="583.75" r="5.7" fill="#000"/>
<path d="M579.00 580.60H590.60L584.80 590.60Z" fill="#000"/>
<rect x="579.80" y="578.75" width="10.0" height="10.0" fill="#000"/>
<rect x="350.5" y="579.5" width="138.00" height="66.00" fill="#fff" stroke="#808080" stroke-width="1"/>
<circle cx="373.00" cy="595.00" r="5.8" fill="#000"/>
<path d="M367.20 608.80H378.80L373.00 618.80Z" fill="#000"/>
<rect x="368.00" y="625.00" width="10.0" height="10.0" fill="#000"/>
<text x="395.30" y="598.80" font-size="13.1" text-anchor="start"  style="">Water</text>
<text x="395.3" y="614.6" font-size="13.1">KAR<tspan font-size="9" dy="4.3" dx="-0.9">1</tspan></text>
<text x="395.30" y="633.80" font-size="13.1" text-anchor="start"  style="">Smoke water</text>
<text x="351.60" y="756.90" font-size="15.3" text-anchor="middle"  style="">0</text>
<text x="398.50" y="756.90" font-size="15.3" text-anchor="middle"  style="">4</text>
<text x="444.90" y="756.90" font-size="15.3" text-anchor="middle"  style="">8</text>
<text x="491.30" y="756.90" font-size="15.3" text-anchor="middle"  style="">12</text>
<text x="538.10" y="756.90" font-size="15.3" text-anchor="middle"  style="">16</text>
<text x="584.50" y="756.90" font-size="15.3" text-anchor="middle"  style="">20</text>
<text x="468.60" y="782.00" font-size="17.3" text-anchor="middle"  style="">Time (days)</text>
<text x="191.50" y="16.30" font-size="17.3" text-anchor="middle"  style="font-style:italic">Levenhookia</text>
<text x="469.00" y="16.30" font-size="17.8" text-anchor="middle"  style="font-style:italic">Trachymene</text>
<text transform="translate(16.2,296.3) rotate(-90)" font-size="17.5" text-anchor="middle">Embryo/seed length ratio</text>
<text transform="translate(16.8,657.5) rotate(-90)" font-size="17.7" text-anchor="middle">Germination (%)</text>
</g>
</svg>
</body></html>
